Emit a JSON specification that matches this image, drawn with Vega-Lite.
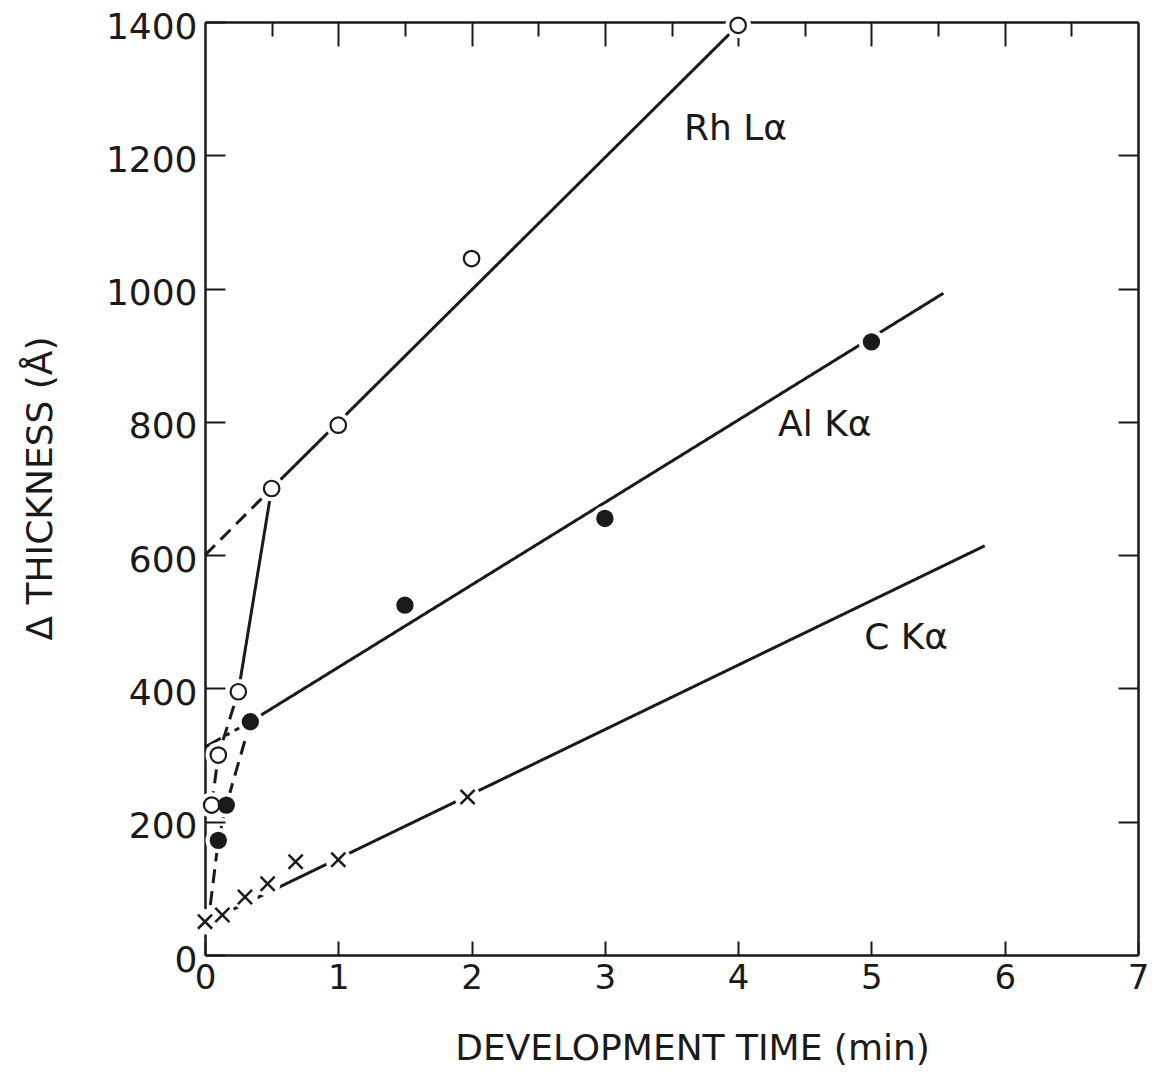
{
  "$schema": "https://vega.github.io/schema/vega-lite/v6.json",
  "width": 933,
  "height": 933,
  "autosize": "none",
  "padding": {"left": 205, "top": 22, "right": 14, "bottom": 118},
  "background": "white",
  "config": {
    "view": {"stroke": null},
    "axis": {
      "domainColor": "#1a1a1a", "domainWidth": 2.5,
      "tickColor": "#1a1a1a", "tickWidth": 2,
      "labelColor": "#1a1a1a", "titleColor": "#1a1a1a",
      "grid": false, "zindex": 1,
      "labelFont": "DejaVu Sans", "titleFont": "DejaVu Sans",
      "titleFontWeight": "normal", "labelFlush": false, "labelOverlap": false
    }
  },
  "datasets": {
    "points": [
      {"series": "Rh", "x": 0.05, "y": 225},
      {"series": "Rh", "x": 0.1, "y": 300},
      {"series": "Rh", "x": 0.25, "y": 395},
      {"series": "Rh", "x": 0.5, "y": 700},
      {"series": "Rh", "x": 1, "y": 795},
      {"series": "Rh", "x": 2, "y": 1045},
      {"series": "Rh", "x": 4, "y": 1395},
      {"series": "Al", "x": 0.1, "y": 172},
      {"series": "Al", "x": 0.16, "y": 225},
      {"series": "Al", "x": 0.34, "y": 350},
      {"series": "Al", "x": 1.5, "y": 525},
      {"series": "Al", "x": 3, "y": 655},
      {"series": "Al", "x": 5, "y": 920},
      {"series": "C", "x": 0, "y": 50},
      {"series": "C", "x": 0.13, "y": 60},
      {"series": "C", "x": 0.3, "y": 87},
      {"series": "C", "x": 0.47, "y": 107},
      {"series": "C", "x": 0.68, "y": 140},
      {"series": "C", "x": 1.0, "y": 143},
      {"series": "C", "x": 1.97, "y": 237}
    ],
    "lines": [
      {"line": "Rh-main", "style": "solid", "ord": 1, "x": 0.5, "y": 700},
      {"line": "Rh-main", "style": "solid", "ord": 2, "x": 4, "y": 1395},
      {"line": "Rh-ext", "style": "dash", "ord": 1, "x": 0, "y": 600},
      {"line": "Rh-ext", "style": "dash", "ord": 2, "x": 0.5, "y": 700},
      {"line": "Rh-low", "style": "dash", "ord": 1, "x": 0.05, "y": 225},
      {"line": "Rh-low", "style": "dash", "ord": 2, "x": 0.1, "y": 300},
      {"line": "Rh-low", "style": "dash", "ord": 3, "x": 0.25, "y": 395},
      {"line": "Rh-up", "style": "solid", "ord": 1, "x": 0.25, "y": 395},
      {"line": "Rh-up", "style": "solid", "ord": 2, "x": 0.5, "y": 700},
      {"line": "Al-main", "style": "solid", "ord": 1, "x": 0.34, "y": 350},
      {"line": "Al-main", "style": "solid", "ord": 2, "x": 5.54, "y": 993},
      {"line": "Al-ext", "style": "dashdot", "ord": 1, "x": 0, "y": 312},
      {"line": "Al-ext", "style": "dashdot", "ord": 2, "x": 0.34, "y": 350},
      {"line": "Al-curve", "style": "dash", "ord": 1, "x": 0.04, "y": 75},
      {"line": "Al-curve", "style": "dash", "ord": 2, "x": 0.1, "y": 172},
      {"line": "Al-curve", "style": "dash", "ord": 3, "x": 0.16, "y": 225},
      {"line": "Al-curve", "style": "dash", "ord": 4, "x": 0.34, "y": 350},
      {"line": "C-main", "style": "solid", "ord": 1, "x": 0, "y": 48},
      {"line": "C-main", "style": "solid", "ord": 2, "x": 5.85, "y": 614}
    ],
    "labels": [
      {"text": "Rh Lα", "x": 3.98, "y": 1240},
      {"text": "Al Kα", "x": 4.65, "y": 795},
      {"text": "C Kα", "x": 5.26, "y": 476}
    ]
  },
  "layer": [
    {
      "data": {"name": "lines"},
      "mark": {"type": "line", "strokeWidth": 3, "color": "#1a1a1a", "strokeCap": "butt"},
      "encoding": {
        "x": {
          "field": "x", "type": "quantitative",
          "scale": {"domain": [0, 7], "nice": false, "zero": false},
          "axis": {
            "orient": "bottom",
            "values": [0, 0.5, 1, 1.5, 2, 2.5, 3, 3.5, 4, 4.5, 5, 5.5, 6, 6.5, 7],
            "format": "d",
            "labelExpr": "datum.value % 1 === 0 ? datum.label : ''",
            "tickSize": {"condition": {"test": "datum.value % 1 === 0", "value": -14}, "value": -10},
            "labelFontSize": 34, "labelPadding": 20, "labelBaseline": "top",
            "title": "DEVELOPMENT TIME (min)", "titleFontSize": 36,
            "titleX": 487, "titleY": 93, "titleBaseline": "middle"
          }
        },
        "y": {
          "field": "y", "type": "quantitative",
          "scale": {"domain": [0, 1400], "nice": false},
          "axis": {
            "orient": "left",
            "values": [0, 200, 400, 600, 800, 1000, 1200, 1400],
            "format": "d",
            "tickSize": -20, "labelFontSize": 36, "labelPadding": 28, "labelOffset": 5,
            "title": "Δ THICKNESS (Å)", "titleFontSize": 36,
            "titleX": -165, "titleY": 466, "titleBaseline": "middle", "titleAngle": -90
          }
        },
        "detail": {"field": "line"},
        "order": {"field": "ord"},
        "strokeDash": {
          "field": "style", "type": "nominal",
          "scale": {"domain": ["solid", "dash", "dashdot"], "range": [[1, 0], [14, 8], [18, 6, 4, 6]]},
          "legend": null
        }
      }
    },
    {
      "data": {"name": "points"},
      "mark": {"type": "point", "shape": "circle", "filled": true, "color": "white", "opacity": 1, "size": 650, "strokeWidth": 0},
      "encoding": {
        "x": {
          "field": "x", "type": "quantitative",
          "axis": {
            "orient": "top",
            "values": [0.5, 1, 1.5, 2, 2.5, 3, 3.5, 4, 4.5, 5, 5.5, 6, 6.5],
            "labels": false, "title": null,
            "tickSize": {"condition": {"test": "datum.value % 1 === 0", "value": -24}, "value": -14}
          }
        },
        "y": {
          "field": "y", "type": "quantitative",
          "axis": {
            "orient": "right",
            "values": [200, 400, 600, 800, 1000, 1200],
            "labels": false, "title": null, "tickSize": -20
          }
        }
      }
    },
    {
      "data": {"name": "points"},
      "transform": [{"filter": "datum.series === 'Rh'"}],
      "mark": {"type": "point", "shape": "circle", "filled": false, "fill": "white", "stroke": "#1a1a1a", "strokeWidth": 2.2, "size": 240, "opacity": 1},
      "encoding": {
        "x": {"field": "x", "type": "quantitative", "axis": null},
        "y": {"field": "y", "type": "quantitative", "axis": null}
      }
    },
    {
      "data": {"name": "points"},
      "transform": [{"filter": "datum.series === 'Al'"}],
      "mark": {"type": "point", "shape": "circle", "filled": true, "color": "#1a1a1a", "size": 300, "opacity": 1},
      "encoding": {
        "x": {"field": "x", "type": "quantitative", "axis": null},
        "y": {"field": "y", "type": "quantitative", "axis": null}
      }
    },
    {
      "data": {"name": "points"},
      "transform": [{"filter": "datum.series === 'C'"}],
      "mark": {"type": "point", "shape": "M-1,-1L1,1M1,-1L-1,1", "filled": false, "stroke": "#1a1a1a", "strokeWidth": 2.5, "size": 200, "opacity": 1},
      "encoding": {
        "x": {"field": "x", "type": "quantitative", "axis": null},
        "y": {"field": "y", "type": "quantitative", "axis": null}
      }
    },
    {
      "data": {"name": "labels"},
      "mark": {"type": "text", "font": "DejaVu Sans", "fontSize": 36, "color": "#1a1a1a", "align": "center", "baseline": "middle"},
      "encoding": {
        "x": {"field": "x", "type": "quantitative", "axis": null},
        "y": {"field": "y", "type": "quantitative", "axis": null},
        "text": {"field": "text"}
      }
    }
  ],
  "resolve": {"axis": {"x": "independent", "y": "independent"}}
}
